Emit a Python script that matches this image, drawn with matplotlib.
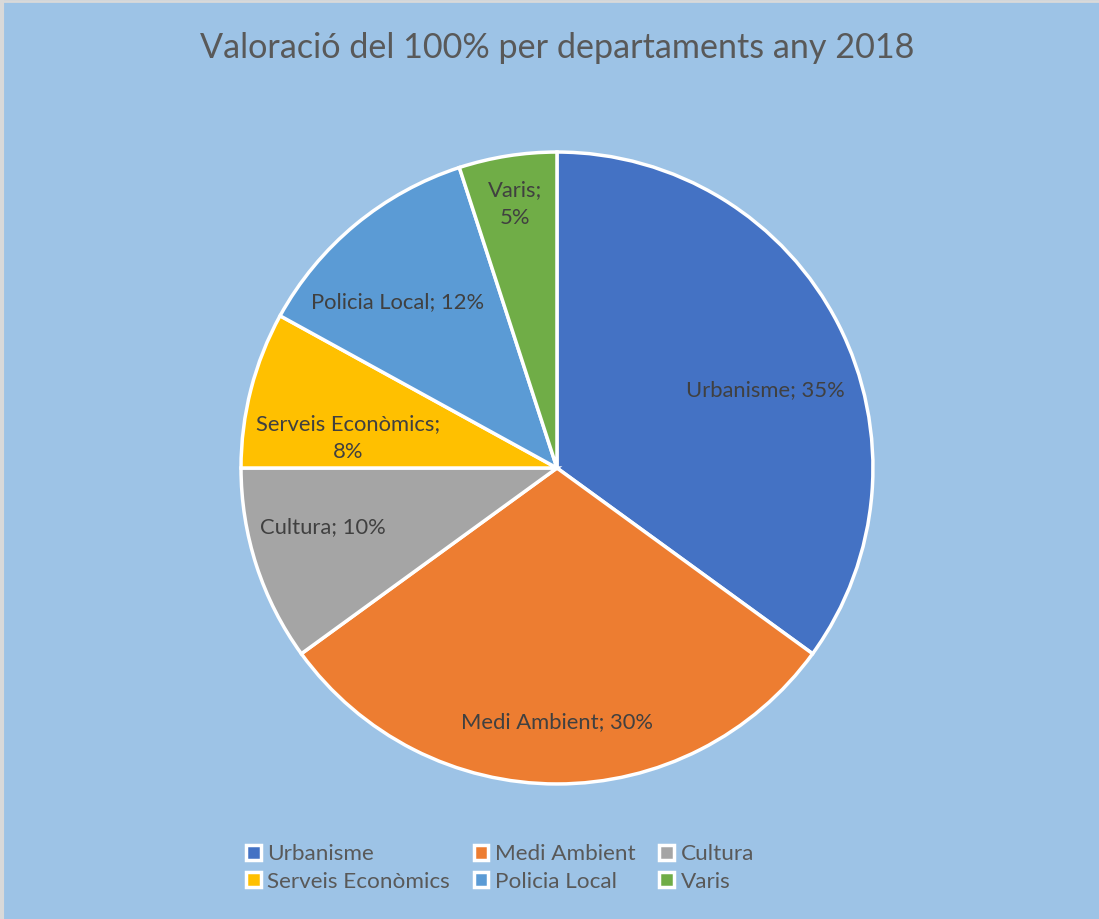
import matplotlib.pyplot as plt
from matplotlib.patches import Patch
from matplotlib.lines import Line2D

plt.rcParams['font.family'] = ['Lato', 'DejaVu Sans']

departments = ['Urbanisme', 'Medi Ambient', 'Cultura', 'Serveis Econòmics', 'Policia Local', 'Varis']
shares = [35, 30, 10, 8, 12, 5]
label_texts = ['Urbanisme; 35%', 'Medi Ambient; 30%', 'Cultura; 10%',
               'Serveis Econòmics;\n8%', 'Policia Local; 12%', 'Varis;\n5%']
colors = ['#4472C4', '#ED7D31', '#A5A5A5', '#FFC000', '#5B9BD5', '#70AD47']

# label placement inside the pie (radius = 1)
label_xy = [(0.658, 0.247), (0.0, -0.804), (-0.741, -0.187),
            (-0.661, 0.095), (-0.506, 0.525), (-0.133, 0.835)]

bg = '#9DC3E6'
text_col = '#595959'

fig = plt.figure(figsize=(10.99, 9.19), dpi=100, facecolor=bg)
ax = fig.add_axes([0.2193, 0.1469, 0.575, 0.6877])
ax.set_facecolor(bg)

wedges, _ = ax.pie(shares, colors=colors, startangle=90, counterclock=False,
                   wedgeprops=dict(edgecolor='white', linewidth=2.5))
ax.set_aspect('equal')
ax.set_xlim(-1.0, 1.0)
ax.set_ylim(-1.0, 1.0)
ax.axis('off')
for w in wedges:
    w.set_clip_on(False)

for txt, (x, y) in zip(label_texts, label_xy):
    ax.text(x, y, txt, ha='center', va='center', fontsize=15.8, color='#404040',
            linespacing=1.45)

fig.text(0.507, 0.948, 'Valoració del 100% per departaments any 2018', ha='center', va='center',
         fontsize=24.6, color=text_col)

# legend fills row by row like the original (3 columns)
order = [0, 3, 1, 4, 2, 5]
handles = [Patch(facecolor=colors[i], edgecolor='white', linewidth=2.5) for i in order]
names = [departments[i] for i in order]
fig.legend(handles, names, loc='center', bbox_to_anchor=(0.455, 0.0555), ncol=3,
           frameon=False, fontsize=16.2, labelcolor=text_col, handlelength=0.65,
           handleheight=0.65, handletextpad=0.3, columnspacing=1.05, labelspacing=0.32)

fig.add_artist(Line2D([0.002, 0.002], [0, 1], transform=fig.transFigure, color='#D9D9D9', lw=3))
fig.add_artist(Line2D([0, 1], [0.999, 0.999], transform=fig.transFigure, color='#D9D9D9', lw=2))

fig.savefig('out.png', dpi=100, facecolor=bg)
